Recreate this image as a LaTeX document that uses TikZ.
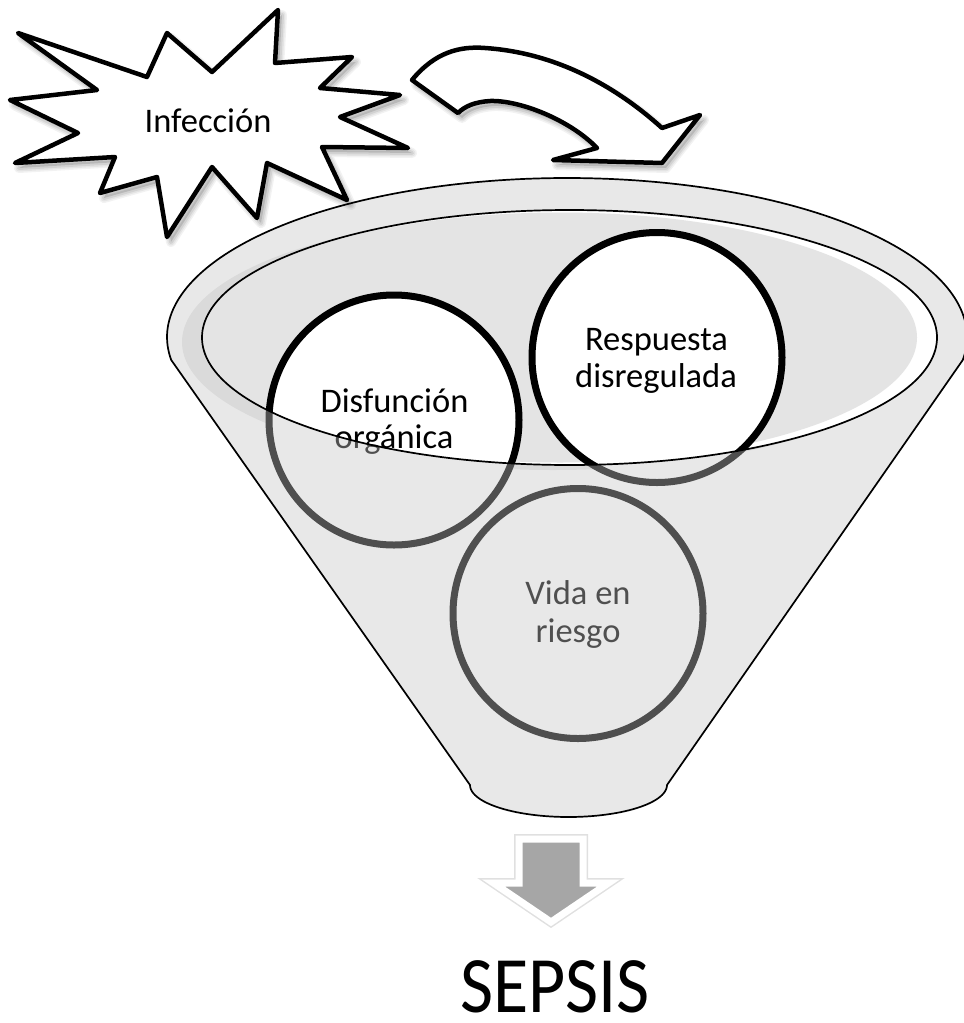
\documentclass[tikz,border=0pt]{standalone}
\usepackage{fontspec}
\setmainfont{Carlito}
\definecolor{innergray}{HTML}{E4E4E4}
\definecolor{bandgray}{HTML}{E8E8E8}
\definecolor{coverc}{HTML}{C6C6C6}
\definecolor{arrowgray}{HTML}{A6A6A6}
\def\starpath{(18,33) -- (147,77) -- (167,33) -- (212,72) -- (278,10) -- (275,63) -- (352,57) -- (320,88) -- (400,95) -- (340,117) -- (408,148) -- (322,147) -- (347,200) -- (267,163) -- (257,218) -- (212,167) -- (167,237) -- (157,177) -- (100,193) -- (115,157) -- (15,163) -- (78,133) -- (10,100) -- (97,90) -- cycle}
\def\curvedpath{(412,80) .. controls (435,52) and (460,46) .. (485,48) .. controls (560,53) and (620,90) .. (662,128) -- (700,115) -- (662,163) -- (553,160) -- (597,148) .. controls (570,120) and (520,100) .. (490,101) .. controls (475,102) and (465,106) .. (458,113) -- cycle}
\def\funnelpath{plot[domain=171.68:368.32,samples=150] ({567+400*cos(\x)},{337+159*sin(\x)}) -- (667,785) -- plot[domain=0:180,samples=60] ({568.5+98.5*cos(\x)},{785+32*sin(\x)}) -- cycle}
\def\downpath{(519,839) -- (583,839) -- (583,883) -- (608.5,883) -- (551,922) -- (493.5,883) -- (519,883) -- cycle}
\newcommand\softshadow[1]{%
  \foreach \w/\o in {10/0.05,7/0.06,4/0.08}{\draw[shift={(4,5)},draw=black,opacity=\o,line width=\w pt,line join=round] #1;}
  \fill[shift={(4,5)},black,opacity=0.12] #1;}
\begin{document}
\begin{tikzpicture}[x=1pt,y=-1pt,
  outlined/.style={draw=black,line width=4.5pt,line join=round,fill=white},
  bubble/.style={circle,draw=black,fill=white,line width=7pt,minimum size=250pt,inner sep=0pt},
  lbl/.style={anchor=base,inner sep=0pt,font=\fontsize{34.5}{36.5}\selectfont},
  rim/.style={draw=black,line width=1.7pt}]
\useasboundingbox (0,0) rectangle (964,1023);
% funnel back
\fill[bandgray] (553,342) ellipse [x radius=371, y radius=128];
\fill[white] (569.5,337.5) ellipse [x radius=367.5, y radius=127.5];
\fill[innergray] (560,337.5) ellipse [x radius=357, y radius=125];
% circles
\node[bubble] (vida) at (578,613.5) {};
\node[lbl] (vida1) at (578,604) {Vida en};
\node[lbl] (vida2) at (578,642) {riesgo};
\node[bubble] (dis) at (394,420) {};
\node[lbl] (dis1) at (394.5,412) {Disfunción};
\node[lbl] (dis2) at (394,448) {orgánica};
\node[bubble] (res) at (657,357.5) {};
\node[lbl] (res1) at (656.5,350) {Respuesta};
\node[lbl] (res2) at (656,387) {disregulada};
% funnel front cover
\fill[coverc,fill opacity=0.4,even odd rule] \funnelpath (569.5,337.5) ellipse [x radius=367.5, y radius=127.5];
\draw[rim,line join=round] \funnelpath;
\draw[rim] (569.5,337.5) ellipse [x radius=367.5, y radius=127.5];
% starburst
\softshadow{\starpath}
\draw[outlined] \starpath;
\node[lbl] (inf) at (208,132) {Infección};
% curved arrow
\softshadow{\curvedpath}
\draw[outlined] \curvedpath;
% down arrow
\draw[draw=black,opacity=0.12,line width=10pt] \downpath;
\draw[fill=arrowgray,draw=white,line width=7pt] \downpath;
\node[anchor=base,inner sep=0pt,text depth=0pt,xscale=0.9,font=\fontsize{80}{86}\selectfont] (sepsis) at (555,1012) {SEPSIS};
\end{tikzpicture}
\end{document}
